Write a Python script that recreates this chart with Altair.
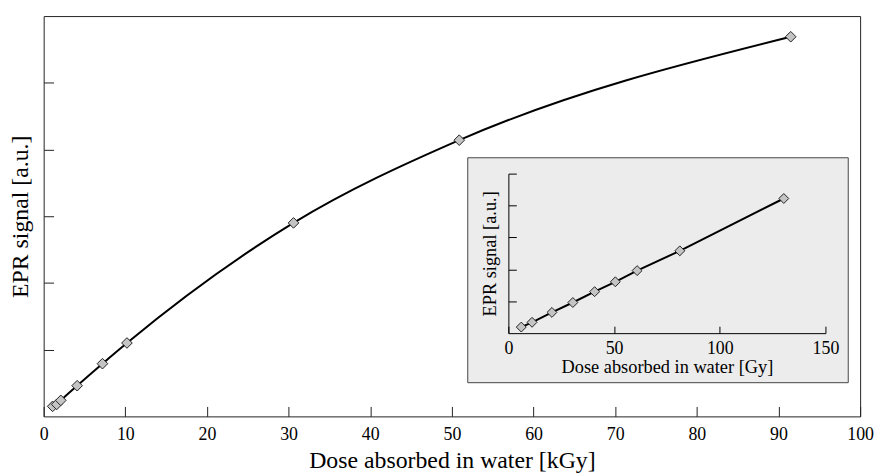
import altair as alt
import pandas as pd

# ---- data ----
main_dose_kgy = [1.1, 1.6, 2.1, 4.1, 7.2, 10.2, 30.6, 50.9, 91.5]
main_signal = [0.15, 0.18, 0.24, 0.46, 0.79, 1.10, 2.90, 4.14, 5.69]

inset_dose_gy = [6.1, 11.2, 20.6, 30.5, 40.8, 50.6, 60.9, 81.1, 130.3]
inset_signal = [0.19, 0.34, 0.65, 0.96, 1.30, 1.61, 1.96, 2.58, 4.22]

main_x_ticks = list(range(0, 101, 10))
main_y_ticks = [1, 2, 3, 4, 5]
inset_x_ticks = [0, 50, 100, 150]
inset_y_ticks = [1, 2, 3, 4, 5]

main_df = pd.DataFrame({"dose": main_dose_kgy, "signal": main_signal})
inset_df = pd.DataFrame({"dose": inset_dose_gy, "signal": inset_signal})

FONT = "Liberation Serif"
W, H = 824, 404

# ---- main panel ----
mx = alt.X(
    "dose:Q",
    scale=alt.Scale(domain=[0, 100], nice=False, zero=False),
    axis=alt.Axis(
        orient="bottom", values=main_x_ticks, title="Dose absorbed in water [kGy]",
        domain=False, grid=False, tickSize={"expr": "-10"}, tickColor="#222",
        labelPadding=19, labelFlush=False, labelOverlap=False,
        labelFont=FONT, labelFontSize=18, labelColor="#000",
        titleFont=FONT, titleFontSize=24, titleFontWeight="normal", titleColor="#000",
        titleY=52, titleBaseline="alphabetic",
    ),
)
my = alt.Y(
    "signal:Q",
    scale=alt.Scale(domain=[0, 6], nice=False, zero=False),
    axis=alt.Axis(
        orient="left", values=main_y_ticks, title="EPR signal [a.u.]",
        domain=False, grid=False, labels=False, tickSize={"expr": "-10"}, tickColor="#222",
        titleFont=FONT, titleFontSize=24, titleFontWeight="normal", titleColor="#000",
        titleAngle=270, titleX=-23, titleBaseline="middle",
    ),
)
main_line = alt.Chart(main_df).mark_line(
    color="#000", strokeWidth=2, interpolate="monotone"
).encode(x=mx, y=my)
main_pts = alt.Chart(main_df).mark_point(
    shape="diamond", filled=True, fill="#c4c4c4", stroke="#222", strokeWidth=1,
    size=115, opacity=1,
).encode(x="dose:Q", y="signal:Q")
main = alt.layer(main_line, main_pts)

# ---- inset frame ----
frame = alt.Chart(pd.DataFrame({"k": [0]})).mark_rect(
    fill="#ececec", stroke="#444", strokeWidth=1
).encode(
    x=alt.value(428), x2=alt.value(812), y=alt.value(143), y2=alt.value(370)
)

# ---- inset panel ----
ix = alt.X(
    "dose:Q",
    scale=alt.Scale(domain=[0, 150], range=[469, 789], nice=False, zero=False),
    axis=alt.Axis(
        orient="bottom", offset=-84, values=inset_x_ticks,
        title="Dose absorbed in water [Gy]", zindex=2,
        domain=True, domainColor="#000", grid=False,
        tickSize={"expr": "-7"}, tickColor="#000", labelPadding=14,
        labelFlush=False, labelOverlap=False,
        labelFont=FONT, labelFontSize=18, labelColor="#000",
        titleFont=FONT, titleFontSize=18.5, titleFontWeight="normal", titleColor="#000",
        titleY=40, titleBaseline="alphabetic",
    ),
)
iy = alt.Y(
    "signal:Q",
    scale=alt.Scale(domain=[0, 5], range=[320, 159], nice=False, zero=False),
    axis=alt.Axis(
        orient="right", offset=-355, values=inset_y_ticks, title="EPR signal [a.u.]",
        zindex=2, domain=True, domainColor="#000", grid=False, labels=False,
        tickSize=8, tickColor="#000",
        titleFont=FONT, titleFontSize=18.5, titleFontWeight="normal", titleColor="#000",
        titleAngle=270, titleX=-19, titleBaseline="middle",
    ),
)
inset_line = alt.Chart(inset_df).mark_line(color="#000", strokeWidth=2).encode(x=ix, y=iy)
inset_pts = alt.Chart(inset_df).mark_point(
    shape="diamond", filled=True, fill="#c4c4c4", stroke="#222", strokeWidth=1,
    size=100, opacity=1,
).encode(x="dose:Q", y="signal:Q")
inset = alt.layer(inset_line, inset_pts)

chart = (
    alt.layer(main, frame, inset)
    .resolve_scale(x="independent", y="independent")
    .resolve_axis(x="independent", y="independent")
    .properties(
        width=W, height=H,
        autosize=alt.AutoSizeParams(type="none"),
        padding={"left": 36, "top": 6, "right": 14, "bottom": 56},
        background="#ffffff",
    )
    .configure(font=FONT)
    .configure_axis(labelFont=FONT, titleFont=FONT)
    .configure_view(stroke="#222", strokeWidth=1)
)

chart.save("out.html", embed_options={"renderer": "svg", "actions": False})
